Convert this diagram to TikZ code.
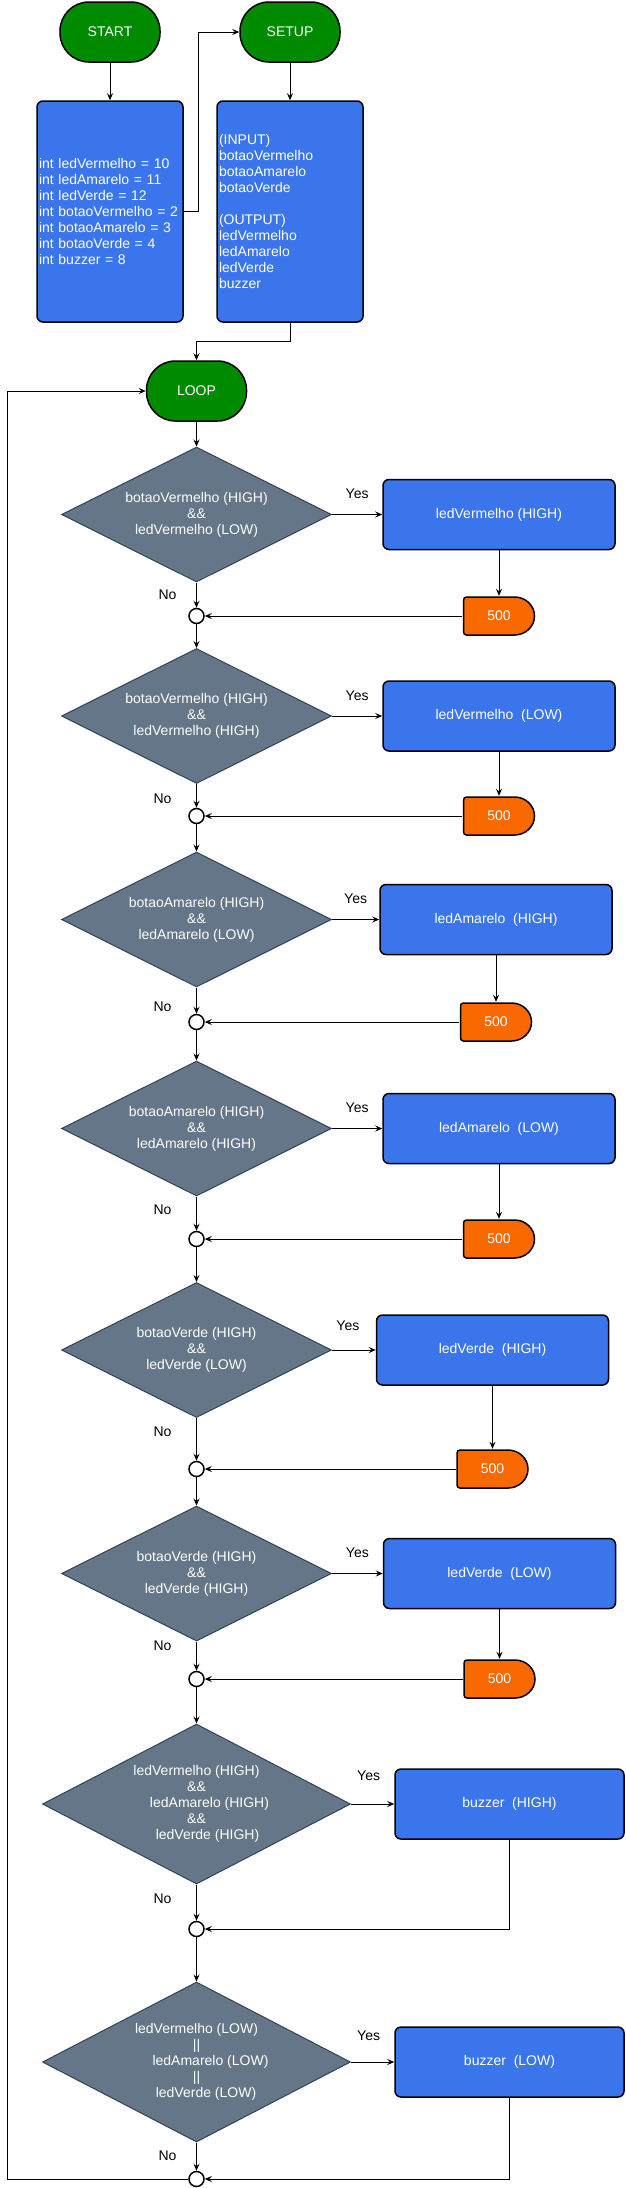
\documentclass[tikz,border=0pt]{standalone}
\usepackage{fontspec}
\setmainfont{Liberation Sans}
\usetikzlibrary{shapes.geometric,arrows.meta}
\definecolor{termgreen}{HTML}{008A00}
\definecolor{procblue}{HTML}{3A75EB}
\definecolor{decgray}{HTML}{647687}
\definecolor{decline}{HTML}{314354}
\definecolor{waitorange}{HTML}{FA6800}
\tikzset{
  term/.style={rectangle,rounded corners=29pt,draw,line width=1.5pt,fill=termgreen,text=white,minimum width=100pt,minimum height=60pt},
  proc/.style={rectangle,rounded corners=6pt,draw,line width=1.5pt,fill=procblue,text=white,minimum width=232pt,minimum height=70pt},
  listbox/.style={proc,minimum width=0pt,minimum height=221pt,text width=142pt,inner xsep=2pt,align=left},
  cond/.style={diamond,aspect=2,draw=decline,line width=1pt,fill=decgray,text=white,align=center,inner sep=0pt,minimum width=270pt,minimum height=135pt},
  bigcond/.style={cond,aspect=1.925,minimum width=308pt,minimum height=160pt},
  joint/.style={circle,draw,line width=1.5pt,fill=white,minimum size=15pt,inner sep=0pt},
  delayshape/.pic={\draw[line width=1.5pt,fill=waitorange]
      (0,-19) -- (15.5,-19) .. controls (26.5,-19) and (35.5,-10.5) .. (35.5,0)
      .. controls (35.5,10.5) and (26.5,19) .. (15.5,19)
      [rounded corners=3pt] -- (-35.5,19) -- (-35.5,-19) -- cycle;},
  delaybox/.style={rectangle,minimum width=73pt,minimum height=40pt,inner sep=0pt,text=white},
  flow/.style={-{Stealth[length=7pt,width=6pt,inset=2.5pt]},line width=1pt},
  lbl/.style={text=black,inner sep=0pt}
}
\begin{document}
\begin{tikzpicture}[x=1pt,y=-1pt,font=\fontsize{14pt}{16pt}\selectfont]
\useasboundingbox (0,0) rectangle (625,2188);
\node[term] (start) at (110,32) {START};
\node[term] (setup) at (290,32) {SETUP};
\node[listbox] (vars) at (110,211.5) {int ledVermelho = 10\\int ledAmarelo = 11\\int ledVerde = 12\\int botaoVermelho = 2\\int botaoAmarelo = 3\\int botaoVerde = 4\\int buzzer = 8};
\node[listbox] (pins) at (290,211.5) {(INPUT)\\botaoVermelho\\botaoAmarelo\\botaoVerde\\[16pt](OUTPUT)\\ledVermelho\\ledAmarelo\\ledVerde\\buzzer};
\node[term] (loop) at (196.5,391) {LOOP};

\node[cond] (c1) at (196.5,514.5) {botaoVermelho (HIGH)\\\&\&\\ledVermelho (LOW)};
\node[cond] (c2) at (196.5,716) {botaoVermelho (HIGH)\\\&\&\\ledVermelho (HIGH)};
\node[cond] (c3) at (196.5,919.5) {botaoAmarelo (HIGH)\\\&\&\\ledAmarelo (LOW)};
\node[cond] (c4) at (196.5,1128.5) {botaoAmarelo (HIGH)\\\&\&\\ledAmarelo (HIGH)};
\node[cond] (c5) at (196.5,1350) {botaoVerde (HIGH)\\\&\&\\ledVerde (LOW)};
\node[cond] (c6) at (196.5,1573.5) {botaoVerde (HIGH)\\\&\&\\ledVerde (HIGH)};
\node[bigcond] (c7) at (196.5,1804) {ledVermelho (HIGH)\\\&\&\\\hspace*{26pt}ledAmarelo (HIGH)\\\&\&\\\hspace*{22pt}ledVerde (HIGH)};
\node[bigcond] (c8) at (196.5,2062) {ledVermelho (LOW)\\||\\\hspace*{28pt}ledAmarelo (LOW)\\||\\\hspace*{19pt}ledVerde (LOW)};

\node[proc] (p1) at (499,514.5) {ledVermelho (HIGH)};
\node[proc] (p2) at (499,716) {ledVermelho\ \ (LOW)};
\node[proc] (p3) at (496,919.5) {ledAmarelo\ \ (HIGH)};
\node[proc] (p4) at (499,1128.5) {ledAmarelo\ \ (LOW)};
\node[proc] (p5) at (492.5,1350) {ledVerde\ \ (HIGH)};
\node[proc] (p6) at (499.5,1573.5) {ledVerde\ \ (LOW)};
\node[proc,minimum width=229pt] (p7) at (509.5,1804) {buzzer\ \ (HIGH)};
\node[proc,minimum width=229pt] (p8) at (509.5,2062) {buzzer\ \ (LOW)};

\pic at (499,616) {delayshape};
\pic at (499,816) {delayshape};
\pic at (496,1022) {delayshape};
\pic at (499,1239) {delayshape};
\pic at (492.5,1469) {delayshape};
\pic at (499.5,1679) {delayshape};
\node[delaybox] (w1) at (499,616) {500};
\node[delaybox] (w2) at (499,816) {500};
\node[delaybox] (w3) at (496,1022) {500};
\node[delaybox] (w4) at (499,1239) {500};
\node[delaybox] (w5) at (492.5,1469) {500};
\node[delaybox] (w6) at (499.5,1679) {500};

\node[joint] (j1) at (196.5,616) {};
\node[joint] (j2) at (196.5,816) {};
\node[joint] (j3) at (196.5,1022) {};
\node[joint] (j4) at (196.5,1239) {};
\node[joint] (j5) at (196.5,1469) {};
\node[joint] (j6) at (196.5,1679) {};
\node[joint] (j7) at (196.5,1929) {};
\node[joint] (j8) at (196.5,2179) {};
\coordinate (back) at (7,2179);

\draw[flow] (start) -- (vars);
\draw[flow] (vars.east) -- ++(15,0) |- (setup.west);
\draw[flow] (setup) -- (pins);
\draw[flow] (pins.south) -- ++(0,19) -| (loop.north);
\draw[flow] (loop) -- (c1);

\draw[flow] (c1) -- node[lbl,yshift=20.5pt] {Yes} (p1);
\draw[flow] (p1) -- (w1);
\draw[flow] (w1) -- (j1);
\draw[flow] (c1) -- node[lbl,pos=0.5,xshift=-29pt] {No} (j1);
\draw[flow] (j1) -- (c2);

\draw[flow] (c2) -- node[lbl,yshift=20pt] {Yes} (p2);
\draw[flow] (p2) -- (w2);
\draw[flow] (w2) -- (j2);
\draw[flow] (c2) -- node[lbl,pos=0.6,xshift=-34pt] {No} (j2);
\draw[flow] (j2) -- (c3);

\draw[flow] (c3) -- node[lbl,yshift=20.5pt] {Yes} (p3);
\draw[flow] (p3) -- (w3);
\draw[flow] (w3) -- (j3);
\draw[flow] (c3) -- node[lbl,pos=0.73,xshift=-34pt] {No} (j3);
\draw[flow] (j3) -- (c4);

\draw[flow] (c4) -- node[lbl,yshift=20.5pt] {Yes} (p4);
\draw[flow] (p4) -- (w4);
\draw[flow] (w4) -- (j4);
\draw[flow] (c4) -- node[lbl,pos=0.4,xshift=-34pt] {No} (j4);
\draw[flow] (j4) -- (c5);

\draw[flow] (c5) -- node[lbl,xshift=-6pt,yshift=24pt] {Yes} (p5);
\draw[flow] (p5) -- (w5);
\draw[flow] (w5) -- (j5);
\draw[flow] (c5) -- node[lbl,pos=0.33,xshift=-34pt] {No} (j5);
\draw[flow] (j5) -- (c6);

\draw[flow] (c6) -- node[lbl,yshift=20.5pt] {Yes} (p6);
\draw[flow] (p6) -- (w6);
\draw[flow] (w6) -- (j6);
\draw[flow] (c6) -- node[lbl,pos=0.16,xshift=-34pt] {No} (j6);
\draw[flow] (j6) -- (c7);

\draw[flow] (c7) -- node[lbl,xshift=-4pt,yshift=28pt] {Yes} (p7);
\draw[flow] (p7) |- (j7);
\draw[flow] (c7) -- node[lbl,pos=0.4,xshift=-34pt] {No} (j7);
\draw[flow] (j7) -- (c8);

\draw[flow] (c8) -- node[lbl,xshift=-4pt,yshift=26pt] {Yes} (p8);
\draw[flow] (p8) |- (j8);
\draw[flow] (c8) -- node[lbl,pos=0.47,xshift=-29pt] {No} (j8);
\draw[flow] (j8) -- (back) |- (loop);
\end{tikzpicture}
\end{document}
